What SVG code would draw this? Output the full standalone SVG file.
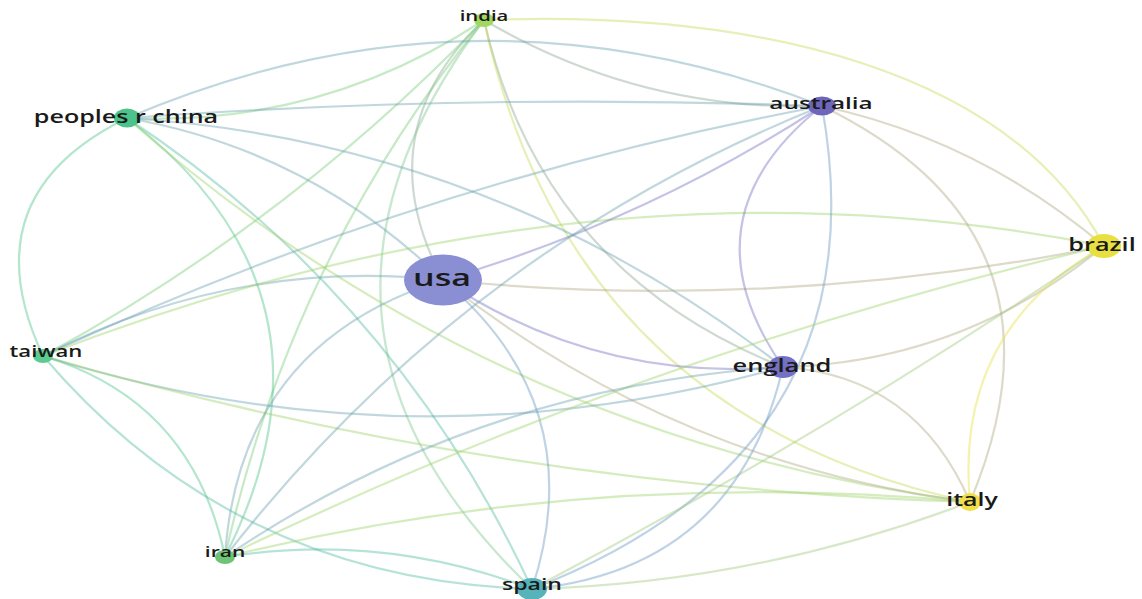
<svg xmlns="http://www.w3.org/2000/svg" width="1142" height="599" viewBox="0 0 1142 599">
<style>
.e{fill:none;stroke-width:2.2;stroke-opacity:0.42;stroke-linecap:round}
.LG{stroke:#76cd75}.LP{stroke:#8aa491}.LY{stroke:#c4dc50}.LT{stroke:#7ac58c}
.GP{stroke:#6a9fb0}.GY{stroke:#9ad165}.GG{stroke:#4cc38a}.GT{stroke:#50bba1}
.PP{stroke:#7470c2}.PY{stroke:#aea881}.PT{stroke:#6a95c0}.TY{stroke:#9ec97c}.YY{stroke:#e8e040}
.lbl{font-family:"Open Sans","DejaVu Sans",sans-serif;font-weight:600;fill:#1a1a1a;text-anchor:middle}
</style>
<rect width="1142" height="599" fill="#ffffff"/>
<g id="connectors">
<path class="e LG" d="M484,20 Q321,127 127,118"/>
<path class="e LP" d="M484,20 Q641,112 822,106"/>
<path class="e LY" d="M484,20 C760,10 1010,70 1104,246"/>
<path class="e LP" d="M484,20 Q365,134 443,280"/>
<path class="e LT" d="M484,20 Q255,324 532,589"/>
<path class="e LG" d="M484,20 Q291,257 225,557"/>
<path class="e LG" d="M484,20 Q287,224 43,356"/>
<path class="e LP" d="M484,20 Q541,271 783,367"/>
<path class="e LY" d="M484,20 Q570,416 970,502"/>
<path class="e GP" d="M127,118 Q474,93 822,106"/>
<path class="e GP" d="M127,118 Q474,-30 822,106"/>
<path class="e GG" d="M127,118 Q-32,196 43,356"/>
<path class="e GG" d="M127,118 Q357,295 225,557"/>
<path class="e GP" d="M127,118 Q310,150 443,280"/>
<path class="e GT" d="M127,118 Q396,296 532,589"/>
<path class="e GY" d="M127,118 Q489,438 970,502"/>
<path class="e GP" d="M127,118 Q492,141 783,367"/>
<path class="e GP" d="M43,356 Q417,182 822,106"/>
<path class="e GP" d="M43,356 Q232,258 443,280"/>
<path class="e GP" d="M43,356 Q412,471 783,367"/>
<path class="e GY" d="M43,356 Q589,144 1104,246"/>
<path class="e GY" d="M43,356 Q495,487 970,502"/>
<path class="e GG" d="M43,356 Q193,401 225,557"/>
<path class="e GT" d="M43,356 Q234,580 532,589"/>
<path class="e PP" d="M443,280 Q645,221 822,106"/>
<path class="e PP" d="M443,280 Q598,383 783,367"/>
<path class="e PY" d="M443,280 Q773,313 1104,246"/>
<path class="e PY" d="M443,280 Q674,463 970,502"/>
<path class="e PT" d="M443,280 Q592,405 532,589"/>
<path class="e GP" d="M443,280 Q239,344 225,557"/>
<path class="e PP" d="M822,106 Q680,219 783,367"/>
<path class="e PT" d="M822,106 Q884,452 532,589"/>
<path class="e PY" d="M822,106 Q979,140 1104,246"/>
<path class="e PY" d="M822,106 Q1083,233 970,502"/>
<path class="e GP" d="M822,106 Q463,250 225,557"/>
<path class="e PY" d="M1104,246 Q963,362 783,367"/>
<path class="e YY" d="M1104,246 Q954,331 970,502"/>
<path class="e TY" d="M1104,246 Q825,435 532,589"/>
<path class="e GY" d="M1104,246 Q646,353 225,557"/>
<path class="e PY" d="M783,367 Q916,376 970,502"/>
<path class="e PT" d="M783,367 Q736,569 532,589"/>
<path class="e GP" d="M783,367 Q478,386 225,557"/>
<path class="e GY" d="M970,502 Q592,467 225,557"/>
<path class="e TY" d="M970,502 Q757,583 532,589"/>
<path class="e GT" d="M225,557 Q382,532 532,589"/>
</g>
<g id="node-india"><ellipse cx="484" cy="20" rx="10" ry="7" fill="#a0d860"/><text class="lbl" font-size="14" transform="translate(484,21) scale(1.45,1)">india</text></g>
<g id="node-china"><ellipse cx="127" cy="118" rx="13" ry="9.5" fill="#4cc38a"/><text class="lbl" font-size="17.3" transform="translate(126,123) scale(1.45,1)">peoples r china</text></g>
<g id="node-australia"><ellipse cx="822" cy="106" rx="14" ry="9.5" fill="#6e66bb"/><text class="lbl" font-size="16.8" transform="translate(821,109) scale(1.45,1)">australia</text></g>
<g id="node-brazil"><ellipse cx="1104" cy="246" rx="17" ry="12" fill="#e8e040"/><text class="lbl" font-size="17.4" transform="translate(1102,251) scale(1.45,1)">brazil</text></g>
<g id="node-usa"><ellipse cx="443" cy="280" rx="39" ry="25.5" fill="#8a8fd4"/><text class="lbl" font-size="23.5" transform="translate(442,286) scale(1.45,1)">usa</text></g>
<g id="node-taiwan"><ellipse cx="43" cy="356" rx="10" ry="7" fill="#5ccb92"/><text class="lbl" font-size="15.3" transform="translate(46,357) scale(1.45,1)">taiwan</text></g>
<g id="node-england"><ellipse cx="783" cy="367" rx="15" ry="11" fill="#7470c2"/><text class="lbl" font-size="17.6" transform="translate(782,372) scale(1.45,1)">england</text></g>
<g id="node-italy"><ellipse cx="970" cy="502" rx="11" ry="9" fill="#efe04a"/><text class="lbl" font-size="17.2" transform="translate(972,506) scale(1.45,1)">italy</text></g>
<g id="node-iran"><ellipse cx="225" cy="557" rx="10" ry="7" fill="#6cc474"/><text class="lbl" font-size="14.5" transform="translate(225,557) scale(1.45,1)">iran</text></g>
<g id="node-spain"><ellipse cx="532" cy="589" rx="15" ry="11" fill="#55b3b9"/><text class="lbl" font-size="15.9" transform="translate(532,590) scale(1.45,1)">spain</text></g>
</svg>
